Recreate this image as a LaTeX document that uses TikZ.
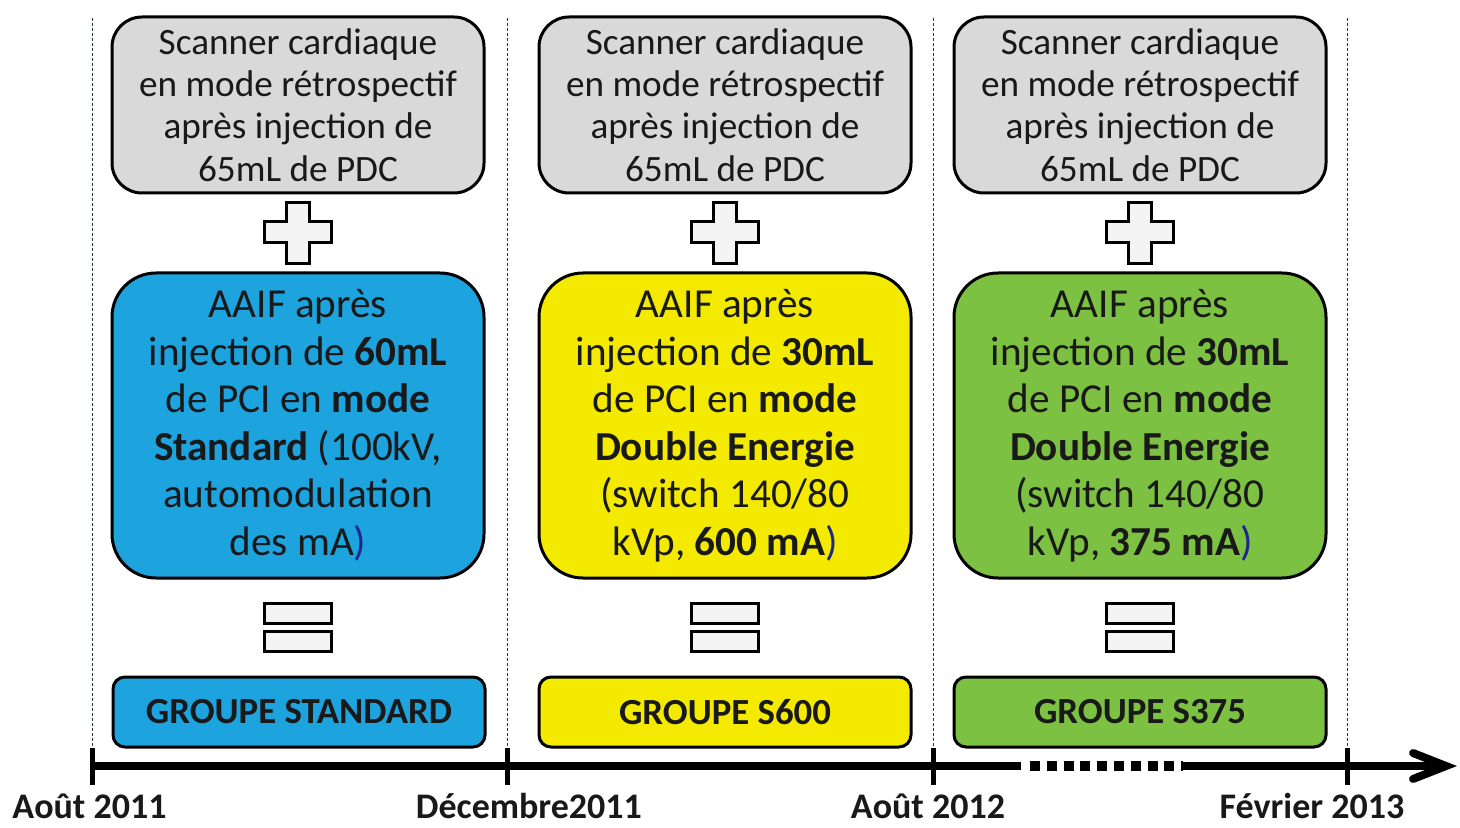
\documentclass[tikz,border=0pt]{standalone}
\usepackage{fontspec}
\setmainfont{Carlito}
\definecolor{boxgray}{RGB}{217,217,217}
\definecolor{cblue}{RGB}{29,163,222}
\definecolor{cyellow}{RGB}{244,234,0}
\definecolor{cgreen}{RGB}{125,193,66}
\definecolor{navy}{RGB}{30,40,140}
\definecolor{guide}{RGB}{40,50,70}
\definecolor{symfill}{RGB}{244,244,244}
\definecolor{txt}{RGB}{25,25,25}
\begin{document}
\begin{tikzpicture}[x=0.5pt,y=-0.5pt,
  topbox/.style={draw=black,line width=1.5pt,fill=boxgray,rounded corners=15pt,
    minimum width=186pt,minimum height=88pt,align=center,inner sep=0pt,text=txt,
    font=\fontsize{18.6}{21.2}\selectfont},
  midbox/.style={draw=black,line width=1.5pt,rounded corners=22pt,
    minimum width=186pt,minimum height=152.5pt,align=center,inner sep=0pt,text=txt,
    font=\fontsize{20.6}{23.75}\selectfont},
  grpbox/.style={draw=black,line width=1.5pt,rounded corners=6pt,
    minimum width=186pt,minimum height=35pt,align=center,inner sep=0pt,text=txt,
    font=\fontsize{18.4}{20}\selectfont\bfseries},
  datelbl/.style={font=\fontsize{18}{20}\selectfont\bfseries,inner sep=0pt,text=txt,anchor=base},
  guideline/.style={draw=guide,line width=0.5pt,dash pattern=on 1.5pt off 1pt},
  sym/.style={draw=black,line width=1.5pt,fill=symfill,line join=miter},
  axis/.style={draw=black,line width=4pt}
]
\useasboundingbox (0,0) rectangle (1460,828);

% guide lines
\foreach \gx/\gn in {92/g1,507/g2,933/g3,1347/g4}{
  \coordinate (\gn t) at (\gx,18);
  \coordinate (\gn b) at (\gx,748);
  \draw[guideline] (\gn t) -- (\gn b);
}

% columns
\foreach \cx/\cn/\col in {298/a/cblue,725/b/cyellow,1140/c/cgreen}{
  \node[topbox] (top\cn) at (\cx,105) {Scanner cardiaque\\en mode rétrospectif\\après injection de\\65mL de PDC};
  % plus
  \draw[sym] (\cx-11.5,203) -- (\cx+11.5,203) -- (\cx+11.5,222) -- (\cx+33.5,222)
    -- (\cx+33.5,243) -- (\cx+11.5,243) -- (\cx+11.5,264) -- (\cx-11.5,264)
    -- (\cx-11.5,243) -- (\cx-33.5,243) -- (\cx-33.5,222) -- (\cx-11.5,222) -- cycle;
  % equal
  \draw[sym] (\cx-33.5,603) rectangle (\cx+33.5,623);
  \draw[sym] (\cx-33.5,631) rectangle (\cx+33.5,651);
}

\node[midbox,fill=cblue] (mida) at (298,425.5) {AAIF après\\injection de \textbf{60mL}\\de PCI en \textbf{mode}\\\textbf{Standard} (100kV,\\automodulation\\des mA\textcolor{navy}{)}};
\node[midbox,fill=cyellow] (midb) at (725,425.5) {AAIF après\\injection de \textbf{30mL}\\de PCI en \textbf{mode}\\\textbf{Double Energie}\\(switch 140/80\\kVp, \textbf{600 mA}\textcolor{navy}{)}};
\node[midbox,fill=cgreen] (midc) at (1140,425.5) {AAIF après\\injection de \textbf{30mL}\\de PCI en \textbf{mode}\\\textbf{Double Energie}\\(switch 140/80\\kVp, \textbf{375 mA}\textcolor{navy}{)}};

\node[grpbox,fill=cblue] (grpa) at (299,712) {GROUPE STANDARD};
\node[grpbox,fill=cyellow] (grpb) at (725,712) {GROUPE S600};
\node[grpbox,fill=cgreen] (grpc) at (1140,712) {GROUPE S375};

% axis
\coordinate (ax0) at (92,766);
\coordinate (ax1) at (1021,766);
\coordinate (ax2) at (1030,766);
\coordinate (ax3) at (1183,766);
\coordinate (ax4) at (1446,766);
\draw[axis] (ax0) -- (ax1);
\draw[axis,line width=5pt,dash pattern=on 5pt off 3.4pt] (ax2) -- (ax3);
\draw[axis] (ax3) -- (ax4);
\draw[axis,line cap=round,line join=miter] (1413,753) -- (ax4) -- (1413,779);
\foreach \gx/\gn in {92/t1,507/t2,933/t3,1347/t4}{
  \draw[black,line width=2.5pt] (\gx,748) -- (\gx,785);
}

\node[datelbl] (d1) at (89.5,818) {Août 2011};
\node[datelbl] (d2) at (529,818) {Décembre2011};
\node[datelbl] (d3) at (928,818) {Août 2012};
\node[datelbl] (d4) at (1312,818) {Février 2013};
\end{tikzpicture}
\end{document}
